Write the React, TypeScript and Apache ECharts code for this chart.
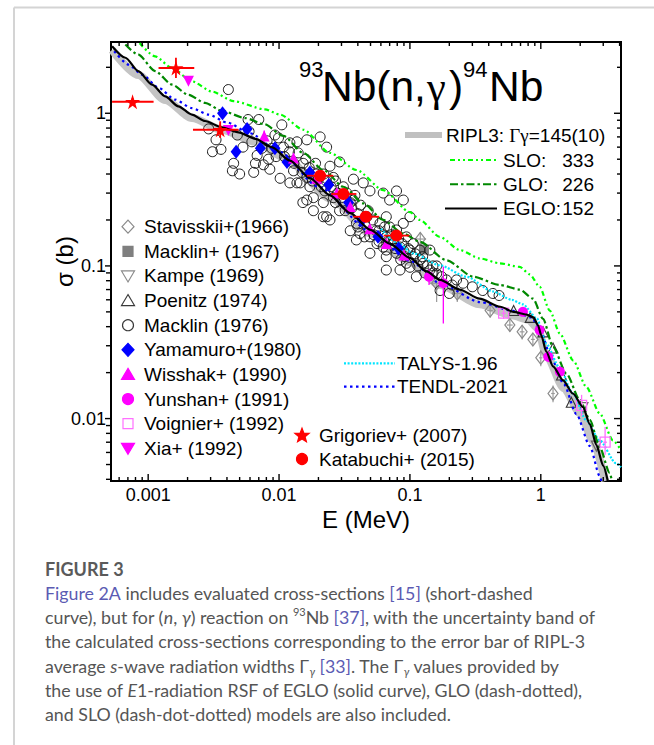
import React, { useEffect, useRef } from "react";
import * as echarts from "echarts";

const FONT = "'Liberation Sans', Arial, sans-serif";
const SERIF = "'Liberation Serif', 'Times New Roman', serif";
const CAP_FONT = "Lato, 'Open Sans', sans-serif";

// ---------------- axes ----------------
const X_MIN = 0.00052;
const X_MAX = 4.1;
const Y_MIN = 0.0039;
const Y_MAX = 2.93;
const xTickValues = [0.001, 0.01, 0.1, 1];
const xTickLabels = ["0.001", "0.01", "0.1", "1"];
const xMinorTickValues = [0.0006, 0.0007, 0.0008, 0.0009, 0.002, 0.003, 0.004, 0.005, 0.006, 0.007, 0.008, 0.009, 0.02, 0.03, 0.04, 0.05, 0.06, 0.07, 0.08, 0.09, 0.2, 0.3, 0.4, 0.5, 0.6, 0.7, 0.8, 0.9, 2, 3, 4];
const yTickValues = [0.01, 0.1, 1];
const yTickLabels = ["0.01", "0.1", "1"];
const yMinorTickValues = [0.004, 0.005, 0.006, 0.007, 0.008, 0.009, 0.02, 0.03, 0.04, 0.05, 0.06, 0.07, 0.08, 0.09, 0.2, 0.3, 0.4, 0.5, 0.6, 0.7, 0.8, 0.9, 2];

// ---------------- curves [E (MeV), sigma (b)] ----------------
const ripl3 = [[0.00053, 2.6], [0.00084, 1.78], [0.00135, 1.22], [0.00216, 0.93], [0.00365, 0.78], [0.0066, 0.65], [0.0111, 0.51], [0.025, 0.275], [0.05, 0.163], [0.1, 0.106], [0.17, 0.075], [0.34, 0.056], [0.6, 0.0475], [0.8, 0.0445], [0.95, 0.039], [1.1, 0.026], [1.5, 0.0158], [2.0, 0.0108], [2.5, 0.0072], [3.1, 0.0039]];
const slo = [[0.00086, 2.88], [0.00113, 2.36], [0.00152, 1.98], [0.00216, 1.62], [0.00306, 1.39], [0.0045, 1.2], [0.0078, 1.06], [0.0102, 0.98], [0.0153, 0.78], [0.0245, 0.55], [0.039, 0.425], [0.0625, 0.314], [0.1, 0.225], [0.119, 0.2], [0.169, 0.155], [0.241, 0.127], [0.342, 0.112], [0.486, 0.104], [0.69, 0.0986], [0.825, 0.088], [0.98, 0.073], [1.17, 0.051], [1.4, 0.036], [1.77, 0.024], [2.23, 0.0161], [2.82, 0.0108], [3.56, 0.0072], [4.1, 0.0062]];
const glo = [[0.00067, 2.82], [0.00084, 2.42], [0.00113, 1.89], [0.00152, 1.54], [0.00203, 1.32], [0.00272, 1.17], [0.00365, 1.04], [0.0055, 0.93], [0.0077, 0.85], [0.0108, 0.71], [0.0153, 0.55], [0.0218, 0.425], [0.031, 0.33], [0.044, 0.257], [0.0625, 0.2], [0.089, 0.163], [0.119, 0.144], [0.19, 0.109], [0.304, 0.085], [0.486, 0.075], [0.69, 0.07], [0.873, 0.061], [1.04, 0.045], [1.24, 0.0295], [1.57, 0.0197], [1.99, 0.0132], [2.37, 0.0098], [2.82, 0.0065], [3.36, 0.0044], [3.5, 0.0039]];
const eglo = [[0.00053, 2.75], [0.00067, 2.31], [0.00084, 1.89], [0.00107, 1.54], [0.00135, 1.29], [0.0017, 1.11], [0.00216, 0.98], [0.00272, 0.89], [0.00365, 0.81], [0.0049, 0.75], [0.0066, 0.68], [0.0088, 0.6], [0.0121, 0.49], [0.0173, 0.375], [0.0245, 0.29], [0.035, 0.222], [0.05, 0.172], [0.07, 0.14], [0.1, 0.113], [0.134, 0.092], [0.17, 0.081], [0.24, 0.07], [0.34, 0.061], [0.49, 0.054], [0.62, 0.05], [0.78, 0.048], [0.88, 0.046], [0.95, 0.041], [1.01, 0.035], [1.1, 0.0275], [1.24, 0.022], [1.48, 0.0178], [1.76, 0.0146], [2.1, 0.0119], [2.37, 0.0092], [2.66, 0.0067], [3.0, 0.0049], [3.25, 0.0039]];
const talys = [[0.06, 0.175], [0.08, 0.142], [0.106, 0.121], [0.169, 0.101], [0.27, 0.085], [0.43, 0.068], [0.6, 0.06], [0.73, 0.056], [0.93, 0.0455], [1.1, 0.031], [1.38, 0.0218], [1.76, 0.0146], [2.23, 0.0097], [2.82, 0.0072], [3.75, 0.0051], [4.1, 0.0048]];
const tendl = [[0.00055, 2.55], [0.00071, 2.08], [0.0009, 1.79], [0.0012, 1.47], [0.0016, 1.23], [0.00216, 1.08], [0.0029, 0.98], [0.004, 0.87], [0.006, 0.74], [0.01, 0.56], [0.02, 0.33], [0.05, 0.168], [0.1, 0.108], [0.17, 0.077], [0.34, 0.058], [0.6, 0.051], [0.85, 0.046], [1.0, 0.037], [1.2, 0.025], [1.5, 0.0168], [1.87, 0.0107], [2.37, 0.0066], [2.82, 0.0042], [2.9, 0.0039]];

// ---------------- measurements ----------------
// [E, sigma, Elow, Ehigh, sigmaLow, sigmaHigh]
const stavisskii = [[0.12, 0.15, 0.108, 0.133, 0.135, 0.166], [0.16, 0.077, 0.14, 0.18, 0.058, 0.095], [0.23, 0.066, 0.21, 0.25, 0.058, 0.075], [0.41, 0.051, 0.39, 0.43, 0.046, 0.056], [0.58, 0.041, 0.55, 0.61, 0.037, 0.045], [0.72, 0.037, 0.69, 0.75, 0.033, 0.041], [0.87, 0.033, 0.84, 0.9, 0.03, 0.036], [1.0, 0.025, 0.97, 1.03, 0.022, 0.028], [1.24, 0.0146, 1.2, 1.28, 0.0128, 0.0165]];
const macklin1967 = [[0.128, 0.128]];
const kampe = [[2.1, 0.0118], [2.66, 0.0066]];
const poenitz = [[0.62, 0.051], [0.83, 0.046], [1.04, 0.037], [1.24, 0.029], [1.44, 0.0193], [1.71, 0.0128]];
const macklin1976 = [[0.0041, 1.43], [0.0029, 0.79], [0.0033, 0.67], [0.0031, 0.56], [0.0048, 0.72], [0.0058, 0.91], [0.007, 0.91], [0.0044, 0.42], [0.005, 0.4], [0.0066, 0.47], [0.0076, 0.46], [0.0083, 0.5], [0.0088, 0.59], [0.0074, 0.59], [0.0093, 0.72], [0.0099, 0.69], [0.0105, 0.84], [0.0059, 0.76], [0.0121, 0.64], [0.0121, 0.35], [0.0145, 0.35], [0.0172, 0.33], [0.0129, 0.42], [0.0153, 0.47], [0.0163, 0.38], [0.0194, 0.4], [0.0231, 0.6], [0.0224, 0.31], [0.026, 0.28], [0.0183, 0.23], [0.0218, 0.21], [0.0245, 0.2], [0.029, 0.23], [0.031, 0.33], [0.035, 0.26], [0.039, 0.148], [0.035, 0.17], [0.0068, 0.53], [0.0108, 0.6], [0.0137, 0.65], [0.0163, 0.67], [0.0206, 0.7], [0.0102, 0.375], [0.0137, 0.35], [0.0245, 0.45], [0.029, 0.48], [0.026, 0.38], [0.037, 0.37], [0.044, 0.35], [0.0495, 0.31], [0.0625, 0.3], [0.07, 0.27], [0.079, 0.31], [0.089, 0.27], [0.0183, 0.28], [0.0218, 0.26], [0.0163, 0.27], [0.031, 0.26], [0.037, 0.27], [0.039, 0.19], [0.047, 0.21], [0.0415, 0.163], [0.0495, 0.155], [0.059, 0.19], [0.066, 0.155], [0.056, 0.14], [0.066, 0.127], [0.079, 0.172], [0.089, 0.19], [0.094, 0.155], [0.084, 0.133], [0.0495, 0.121], [0.1, 0.21], [0.066, 0.21], [0.07, 0.18], [0.0625, 0.133], [0.066, 0.115], [0.079, 0.121], [0.075, 0.14], [0.1, 0.127], [0.094, 0.104], [0.106, 0.115], [0.106, 0.14], [0.119, 0.127], [0.066, 0.094], [0.084, 0.094], [0.19, 0.081], [0.227, 0.081], [0.255, 0.077], [0.3, 0.073], [0.36, 0.069], [0.43, 0.066], [0.126, 0.104], [0.142, 0.094], [0.16, 0.089], [0.112, 0.085], [0.142, 0.127], [0.17, 0.069], [0.2, 0.066], [0.48, 0.064], [0.0152, 0.26], [0.0231, 0.21], [0.02, 0.37], [0.028, 0.3], [0.04, 0.22], [0.055, 0.17], [0.075, 0.15], [0.09, 0.125], [0.12, 0.11], [0.15, 0.1], [0.13, 0.09], [0.011, 0.52], [0.012, 0.56], [0.013, 0.47], [0.014, 0.55], [0.015, 0.41], [0.016, 0.5], [0.017, 0.44], [0.018, 0.36], [0.019, 0.47], [0.021, 0.33], [0.022, 0.4], [0.023, 0.36], [0.025, 0.33], [0.027, 0.26], [0.027, 0.36], [0.03, 0.28], [0.032, 0.23], [0.033, 0.3], [0.036, 0.24], [0.038, 0.29], [0.04, 0.18], [0.042, 0.25], [0.045, 0.19], [0.048, 0.23], [0.052, 0.2], [0.053, 0.16], [0.058, 0.17], [0.062, 0.16], [0.064, 0.18], [0.068, 0.145], [0.072, 0.16], [0.077, 0.13], [0.082, 0.15], [0.087, 0.14], [0.092, 0.115], [0.097, 0.13], [0.11, 0.12], [0.115, 0.1], [0.125, 0.115], [0.135, 0.1], [0.15, 0.09], [0.16, 0.1], [0.175, 0.085], [0.21, 0.075], [0.1, 0.098], [0.085, 0.11], [0.058, 0.145], [0.045, 0.155], [0.0036, 0.58], [0.0053, 0.6], [0.0062, 0.65], [0.0045, 0.47], [0.0081, 0.66], [0.0095, 0.52], [0.0064, 0.41], [0.0085, 0.43]];
const yamamuro = [[0.0037, 1.0], [0.0047, 0.56], [0.0057, 0.79], [0.0072, 0.59], [0.0093, 0.59], [0.0115, 0.48], [0.0172, 0.41], [0.024, 0.34], [0.034, 0.26], [0.043, 0.2], [0.057, 0.155], [0.082, 0.13]];
const wisshak = [[0.0077, 0.71, 0.0077, 0.0077, 0.65, 0.77], [0.0129, 0.51, 0.0129, 0.0129, 0.47, 0.55], [0.0194, 0.375, 0.0194, 0.0194, 0.345, 0.405], [0.0276, 0.3, 0.0276, 0.0276, 0.277, 0.323], [0.035, 0.245, 0.035, 0.035, 0.226, 0.264], [0.0495, 0.175, 0.0495, 0.0495, 0.161, 0.189], [0.066, 0.14, 0.066, 0.066, 0.129, 0.151], [0.09, 0.118, 0.09, 0.09, 0.109, 0.127]];
const yunshan = [[0.14, 0.085, 0.14, 0.14, 0.075, 0.095], [0.18, 0.077, 0.18, 0.18, 0.042, 0.099], [0.73, 0.05, 0.73, 0.73, 0.047, 0.053], [0.98, 0.038, 0.98, 0.98, 0.035, 0.041], [1.14, 0.0254, 1.14, 1.14, 0.0235, 0.0275], [1.4, 0.0203, 1.4, 1.4, 0.0188, 0.022]];
const voignier = [[0.52, 0.049, 0.5, 0.54, 0.045, 0.053], [2.05, 0.0122, 2.0, 2.1, 0.0104, 0.0143], [3.1, 0.007, 3.0, 3.2, 0.0058, 0.0088]];
const xia = [[0.00203, 1.62], [0.0041, 0.77]];
const grigoriev = [[0.00076, 1.19, 0.00053, 0.0011, 1.13, 1.26], [0.00163, 1.98, 0.0012, 0.00225, 1.7, 2.31], [0.00355, 0.78, 0.0022, 0.0049, 0.69, 0.886]];
const katabuchi = [[0.0206, 0.39, 0.0163, 0.026, 0.37, 0.41], [0.031, 0.296, 0.025, 0.039, 0.28, 0.31], [0.046, 0.21, 0.037, 0.058, 0.2, 0.22], [0.079, 0.158, 0.063, 0.099, 0.15, 0.166]];

// ---------------- legends / texts ----------------
const leftLegendNames = ["Stavisskii+(1966)", "Macklin+ (1967)", "Kampe (1969)", "Poenitz (1974)", "Macklin (1976)", "Yamamuro+(1980)", "Wisshak+ (1990)", "Yunshan+ (1991)", "Voignier+ (1992)", "Xia+ (1992)"];
const modelLegendNames = ["SLO:", "GLO:", "EGLO:"];
const modelLegendValues = ["333", "226", "152"];
const codeLegendNames = ["TALYS-1.96", "TENDL-2021"];
const recentLegendNames = ["Grigoriev+ (2007)", "Katabuchi+ (2015)"];
const captionLines = [
  "{l|Figure 2A} includes evaluated cross-sections {l|[15]} (short-dashed",
  "curve), but for ({i|n}, {i|γ}) reaction on {sup|93}Nb {l|[37]}, with the uncertainty band of",
  "the calculated cross-sections corresponding to the error bar of RIPL-3",
  "average {i|s}-wave radiation widths Γ{sub|γ} {l|[33]}. The Γ{sub|γ} values provided by",
  "the use of {i|E}1-radiation RSF of EGLO (solid curve), GLO (dash-dotted),",
  "and SLO (dash-dot-dotted) models are also included.",
];

const STAR = "path://M50,0 L61,35 L98,35 L68,57 L79,91 L50,70 L21,91 L32,57 L2,35 L39,35 Z";

function fmt(values: number[], labels: string[]) {
  return (v: number) => {
    const i = values.findIndex((t) => Math.abs(Math.log10(v) - Math.log10(t)) < 1e-6);
    return i >= 0 ? labels[i] : "";
  };
}

const tickStyle = { stroke: "#000", lineWidth: 1.4 };
function xTickRender(params: any, api: any) {
  const cs = params.coordSys;
  const x = api.coord([api.value(0), api.value(1)])[0];
  const len = api.value(2) ? 7 : 4;
  const b = cs.y + cs.height;
  return {
    type: "group",
    children: [
      { type: "line", shape: { x1: x, y1: b, x2: x, y2: b - len }, style: tickStyle },
      { type: "line", shape: { x1: x, y1: cs.y, x2: x, y2: cs.y + len }, style: tickStyle },
    ],
  };
}
function yTickRender(params: any, api: any) {
  const cs = params.coordSys;
  const y = api.coord([api.value(0), api.value(1)])[1];
  const major = !!api.value(2);
  const lenL = major ? 6 : 5;
  const lenR = major ? 7 : 4;
  const r = cs.x + cs.width;
  return {
    type: "group",
    children: [
      { type: "line", shape: { x1: cs.x - lenL, y1: y, x2: cs.x, y2: y }, style: tickStyle },
      { type: "line", shape: { x1: r - lenR, y1: y, x2: r, y2: y }, style: tickStyle },
    ],
  };
}
function errRender(color: string, width: number) {
  return (params: any, api: any) => {
    const e = api.value(0);
    const s = api.value(1);
    const a = api.coord([api.value(2), s]);
    const b = api.coord([api.value(3), s]);
    const c = api.coord([e, api.value(4)]);
    const d = api.coord([e, api.value(5)]);
    const st = { stroke: color, lineWidth: width };
    return {
      type: "group",
      children: [
        { type: "line", shape: { x1: a[0], y1: a[1], x2: b[0], y2: b[1] }, style: st },
        { type: "line", shape: { x1: c[0], y1: c[1], x2: d[0], y2: d[1] }, style: st },
      ],
    };
  };
}

function lineSeries(name: string, data: number[][], color: string, width: number, type: any, z: number) {
  return {
    type: "line",
    name,
    data,
    symbol: "none",
    smooth: 0.25,
    smoothMonotone: "x",
    silent: true,
    clip: true,
    z,
    lineStyle: { color, width, type, cap: "butt" },
  };
}
function scatterSeries(name: string, data: number[][], symbol: string, size: any, fill: string, stroke: string, bw: number, z: number, rotate = 0) {
  return {
    type: "scatter",
    name,
    data: data.map((d) => [d[0], d[1]]),
    symbol,
    symbolSize: size,
    symbolRotate: rotate,
    silent: true,
    z,
    itemStyle: { color: fill, borderColor: stroke, borderWidth: bw, opacity: 1 },
  };
}
function errSeries(name: string, data: number[][], color: string, width: number, z: number) {
  return {
    type: "custom",
    name,
    data,
    encode: { x: 0, y: 1 },
    renderItem: errRender(color, width),
    silent: true,
    clip: true,
    z,
  };
}

const NONE = "rgba(0,0,0,0)";

function legendMarker(kind: string, cx: number, cy: number, fill: string, stroke: string): any {
  const st = { fill, stroke, lineWidth: 1.2 };
  const z = 100;
  if (kind === "circle") return { type: "circle", z, shape: { cx, cy, r: 5.5 }, style: st };
  if (kind === "rect") return { type: "rect", z, shape: { x: cx - 5, y: cy - 5, width: 10, height: 10 }, style: st };
  if (kind === "diamond") return { type: "polygon", z, shape: { points: [[cx, cy - 6.5], [cx + 6, cy], [cx, cy + 6.5], [cx - 6, cy]] }, style: st };
  if (kind === "up") return { type: "polygon", z, shape: { points: [[cx, cy - 6], [cx + 6.5, cy + 5], [cx - 6.5, cy + 5]] }, style: st };
  if (kind === "down") return { type: "polygon", z, shape: { points: [[cx, cy + 6], [cx + 6.5, cy - 5], [cx - 6.5, cy - 5]] }, style: st };
  const pts: number[][] = [];
  for (let k = 0; k < 10; k++) {
    const ang = -Math.PI / 2 + (k * Math.PI) / 5;
    const rr = k % 2 === 0 ? 7.5 : 3.2;
    pts.push([cx + rr * Math.cos(ang), cy + rr * Math.sin(ang)]);
  }
  return { type: "polygon", z, shape: { points: pts }, style: st };
}

function txt(text: string, x: number, y: number, size: number, family: string, extra: any = {}) {
  return {
    type: "text",
    x,
    y,
    z: 100,
    style: { text, fontSize: size, fontFamily: family, fill: "#000", align: "left", verticalAlign: "middle", ...extra },
  };
}

function buildGraphics() {
  const g: any[] = [];
  // card frame
  g.push({ type: "line", z: 100, shape: { x1: 14, y1: 7.5, x2: 654, y2: 7.5 }, style: { stroke: "#d4d4d4", lineWidth: 2 } });
  g.push({ type: "line", z: 100, shape: { x1: 14, y1: 7.5, x2: 14, y2: 745 }, style: { stroke: "#d4d4d4", lineWidth: 2 } });

  // title 93Nb(n,γ)94Nb
  g.push(txt("93", 299, 69, 22, FONT));
  g.push(txt("Nb(n,", 322, 86, 42.5, FONT));
  g.push(txt("γ", 427, 86, 42.5, SERIF));
  g.push(txt(")", 449, 86, 42.5, FONT));
  g.push(txt("94", 463, 69, 22, FONT));
  g.push(txt("Nb", 489, 86, 42.5, FONT));

  // left legend
  const kinds = ["diamond", "rect", "down", "up", "circle", "diamond", "up", "circle", "rect", "down"];
  const fills = [NONE, "#7f7f7f", NONE, NONE, NONE, "#0000ff", "#ff00ff", "#ff00ff", NONE, "#ff00ff"];
  const strokes = ["#8a8a8a", "#7f7f7f", "#8a8a8a", "#3a3a3a", "#3a3a3a", "#0000ff", "#ff00ff", "#ff00ff", "#ff70ff", "#ff00ff"];
  leftLegendNames.forEach((name, i) => {
    const y = 226.7 + i * 24.62;
    g.push(legendMarker(kinds[i], 128, y, fills[i], strokes[i]));
    g.push(txt(name, 144, y, 19, FONT));
  });

  // right-top legend
  g.push({ type: "line", z: 100, shape: { x1: 405, y1: 135, x2: 442, y2: 135 }, style: { stroke: "#c0c0c0", lineWidth: 6 } });
  g.push({
    type: "text",
    x: 446,
    y: 135,
    z: 100,
    style: {
      text: "{a|RIPL3: }{g|Γγ}{a|=145(10)}",
      fontSize: 19,
      fontFamily: FONT,
      fill: "#000",
      align: "left",
      verticalAlign: "middle",
      rich: {
        a: { fontSize: 19, fontFamily: FONT, fill: "#000" },
        g: { fontSize: 19, fontFamily: SERIF, fill: "#000" },
      },
    },
  });
  const mColors = ["#00ff00", "#008800", "#000000"];
  const mDash = [[5, 3, 2, 3, 2, 3], [8, 3, 2.5, 3], null];
  const mX1 = [450, 450, 445];
  modelLegendNames.forEach((name, i) => {
    const y = 160 + i * 24.2;
    const style: any = { stroke: mColors[i], lineWidth: 2 };
    if (mDash[i]) style.lineDash = mDash[i];
    g.push({ type: "line", z: 100, shape: { x1: mX1[i], y1: y, x2: 497, y2: y }, style });
    g.push(txt(name, 503, y, 19, FONT));
    g.push(txt(modelLegendValues[i], 594, y, 19, FONT, { align: "right" }));
  });

  // codes legend
  const cColors = ["#00e5ff", "#0000ff"];
  const cDash = [[2, 1.6], [2.5, 3.5]];
  codeLegendNames.forEach((name, i) => {
    const y = 363.3 + i * 23.4;
    g.push({ type: "line", z: 100, shape: { x1: 344, y1: y, x2: 395, y2: y }, style: { stroke: cColors[i], lineWidth: 2.2, lineDash: cDash[i] } });
    g.push(txt(name, 397, y, 19, FONT));
  });

  // recent data legend
  recentLegendNames.forEach((name, i) => {
    const y = 435.7 + i * 23.3;
    g.push(legendMarker(i === 0 ? "star" : "circle", 302, y, "#ff0000", "#ff0000"));
    g.push(txt(name, 319, y, 19, FONT));
  });

  // caption
  g.push(txt("FIGURE 3", 45, 569, 18, CAP_FONT, { fill: "#5a5a5a", fontWeight: "bold" }));
  const base = { fontSize: 17.8, fontFamily: CAP_FONT, fill: "#555555" };
  captionLines.forEach((line, i) => {
    g.push({
      type: "text",
      x: 45,
      y: 593 + i * 24.2,
      z: 100,
      style: {
        text: line,
        ...base,
        align: "left",
        verticalAlign: "middle",
        lineHeight: 22,
        rich: {
          l: { ...base, fill: "#5b5bb3" },
          i: { ...base, fontStyle: "italic" },
          sup: { fontSize: 11, fontFamily: CAP_FONT, fill: "#555555", verticalAlign: "top" },
          sub: { fontSize: 11, fontFamily: CAP_FONT, fill: "#555555", fontStyle: "italic", verticalAlign: "bottom" },
        },
      },
    });
  });
  return g;
}

function buildOption() {
  const xTicks = xTickValues.map((v) => [v, 1, 1]).concat(xMinorTickValues.map((v) => [v, 1, 0]));
  const yTicks = yTickValues.map((v) => [1, v, 1]).concat(yMinorTickValues.map((v) => [1, v, 0]));
  return {
    animation: false,
    backgroundColor: "#ffffff",
    grid: { left: 111, top: 42, width: 510, height: 439, show: true, borderColor: "#000", borderWidth: 2, backgroundColor: "transparent" },
    xAxis: {
      type: "log",
      logBase: 10,
      min: X_MIN,
      max: X_MAX,
      axisLine: { show: false },
      axisTick: { show: false },
      splitLine: { show: false },
      axisLabel: { formatter: fmt(xTickValues, xTickLabels), fontSize: 18, fontFamily: FONT, color: "#000", margin: 5 },
      name: "E (MeV)",
      nameLocation: "middle",
      nameGap: 26,
      nameMoveOverlap: false,
      nameTextStyle: { fontSize: 24, fontFamily: FONT, color: "#000" },
    },
    yAxis: {
      type: "log",
      logBase: 10,
      min: Y_MIN,
      max: Y_MAX,
      axisLine: { show: false },
      axisTick: { show: false },
      splitLine: { show: false },
      axisLabel: { formatter: fmt(yTickValues, yTickLabels), fontSize: 18, fontFamily: FONT, color: "#000", margin: 5 },
      name: "σ (b)",
      nameLocation: "middle",
      nameGap: 35,
      nameMoveOverlap: false,
      nameTextStyle: { fontSize: 24, fontFamily: FONT, color: "#000" },
    },
    series: [
      lineSeries("RIPL3: Γγ=145(10)", ripl3, "#c4c4c4", 8, "solid", 1),
      errSeries("Stavisskii err", stavisskii, "#9a9a9a", 1.2, 2),
      scatterSeries("Stavisskii+(1966)", stavisskii, "diamond", [10, 13], NONE, "#8a8a8a", 1.2, 2),
      scatterSeries("Macklin+ (1967)", macklin1967, "rect", 9, "#7f7f7f", "#7f7f7f", 1, 2),
      scatterSeries("Kampe (1969)", kampe, "triangle", 10, NONE, "#6a6a6a", 1.2, 2, 180),
      scatterSeries("Poenitz (1974)", poenitz, "triangle", 10, NONE, "#333333", 1.1, 2),
      scatterSeries("Macklin (1976)", macklin1976, "circle", 10, NONE, "#1a1a1a", 1, 2),
      lineSeries("TENDL-2021", tendl, "#0000ff", 2.2, [2.5, 3.5], 3),
      lineSeries("TALYS-1.96", talys, "#00e5ff", 2.2, [2, 1.6], 3),
      lineSeries("SLO", slo, "#00ff00", 2.2, [5, 3, 2, 3, 2, 3], 3),
      lineSeries("GLO", glo, "#008800", 2.2, [8, 3, 2.5, 3], 3),
      scatterSeries("Yamamuro+(1980)", yamamuro, "diamond", [11, 14], "#0000ff", "#0000ff", 0, 4),
      errSeries("Wisshak err", wisshak, "#ff00ff", 1.3, 4),
      scatterSeries("Wisshak+ (1990)", wisshak, "triangle", 11, "#ff00ff", "#ff00ff", 0, 4),
      errSeries("Yunshan err", yunshan, "#ff00ff", 1.3, 4),
      scatterSeries("Yunshan+ (1991)", yunshan, "circle", 10, "#ff00ff", "#ff00ff", 0, 4),
      errSeries("Voignier err", voignier, "#ff70ff", 1.3, 4),
      scatterSeries("Voignier+ (1992)", voignier, "rect", 10, NONE, "#ff70ff", 1.3, 4),
      scatterSeries("Xia+ (1992)", xia, "triangle", 11, "#ff00ff", "#ff00ff", 0, 4, 180),
      lineSeries("EGLO", eglo, "#000000", 2.2, "solid", 5),
      errSeries("Grigoriev err", grigoriev, "#ff0000", 1.8, 6),
      scatterSeries("Grigoriev+ (2007)", grigoriev, STAR, 15, "#ff0000", "#ff0000", 0, 6),
      errSeries("Katabuchi err", katabuchi, "#ff0000", 1.8, 6),
      scatterSeries("Katabuchi+ (2015)", katabuchi, "circle", 12, "#ff0000", "#ff0000", 0, 6),
      { type: "custom", name: "xticks", data: xTicks, encode: { x: 0, y: 1 }, renderItem: xTickRender, silent: true, z: 8 },
      { type: "custom", name: "yticks", data: yTicks, encode: { x: 0, y: 1 }, renderItem: yTickRender, silent: true, z: 8 },
    ],
    graphic: buildGraphics(),
  };
}

export default function App() {
  const ref = useRef<HTMLDivElement>(null);
  useEffect(() => {
    if (!ref.current) return;
    const chart = echarts.init(ref.current, undefined, { renderer: "svg" });
    chart.setOption(buildOption() as any);
    return () => chart.dispose();
  }, []);
  return <div ref={ref} style={{ position: "fixed", left: 0, top: 0, width: 654, height: 745, background: "#fff" }} />;
}
